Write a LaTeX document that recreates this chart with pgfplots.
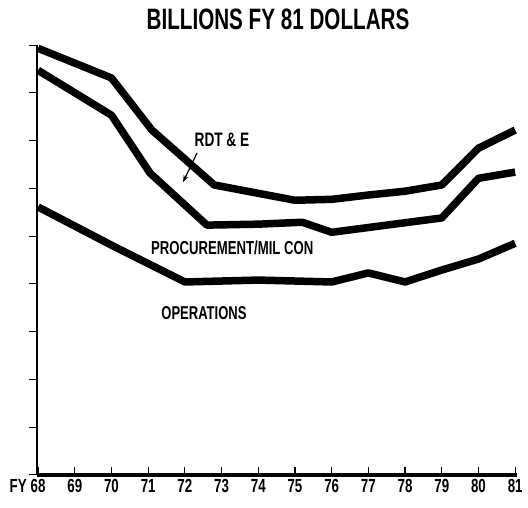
\documentclass[border=0pt]{standalone}
\usepackage{fontspec}
\setmainfont{Liberation Sans}[FakeStretch=0.7]
\usepackage{pgfplots}
\pgfplotsset{compat=1.18}
\usetikzlibrary{arrows.meta}
\begin{document}
\begin{tikzpicture}
\useasboundingbox (-37pt,-33pt) rectangle (491pt,475pt);
\begin{axis}[
  at={(0,0)}, anchor=south west,
  scale only axis, width=480pt, height=430pt,
  xmin=67.97, xmax=81.05, ymin=0, ymax=9,
  axis lines=left,
  axis line style={-},
  x axis line style={line width=4pt},
  y axis line style={line width=1.2pt},
  xtick={68,69,70,71,72,73,74,75,76,77,78,79,80,81},
  xticklabels={\llap{FY\hspace{4pt}}68,69,70,71,72,73,74,75,76,77,78,79,80,81},
  ytick={0,1,2,3,4,5,6,7,8,9}, yticklabels={},
  tick align=inside, major tick length=8pt,
  major y tick style={xshift=-8pt, line width=1pt, black},
  major x tick style={line width=1.2pt, black},
  xticklabel style={font=\fontsize{19}{20}\selectfont\bfseries, yshift=-1pt},
  clip=false,
]
\addplot[black, line width=7.5pt, line join=round, mark=none] coordinates {
 (68,8.93) (70,8.31) (71.1,7.22) (72.8,6.07) (75,5.75) (76,5.77) (77,5.86) (78,5.94) (79,6.07) (80,6.84) (81,7.22)};
\addplot[black, line width=7.5pt, line join=round, mark=none] coordinates {
 (68,8.47) (70,7.53) (71.05,6.32) (72.6,5.23) (74,5.25) (75.2,5.29) (76,5.08) (79,5.38) (80,6.21) (81,6.34)};
\addplot[black, line width=7.5pt, line join=round, mark=none] coordinates {
 (68,5.61) (70,4.81) (72,4.04) (74,4.08) (76,4.04) (77,4.23) (78,4.04) (79,4.29) (80,4.52) (81,4.85)};
\node[font=\fontsize{19.5}{20}\selectfont\bfseries] at (axis cs:73.01,7.01) {RDT \& E};
\node[font=\fontsize{18.8}{20}\selectfont\bfseries] at (axis cs:73.29,4.75) {PROCUREMENT/MIL CON};
\node[font=\fontsize{18.6}{20}\selectfont\bfseries] at (axis cs:72.52,3.39) {OPERATIONS};
\draw[-{Stealth[length=7pt,width=5pt]}, line width=1.2pt] (axis cs:72.33,6.74) -- (axis cs:71.95,6.13);
\end{axis}
\node[font=\fontsize{29.5}{32}\selectfont\bfseries] at (241pt,456pt) {BILLIONS FY 81 DOLLARS};
\end{tikzpicture}
\end{document}
